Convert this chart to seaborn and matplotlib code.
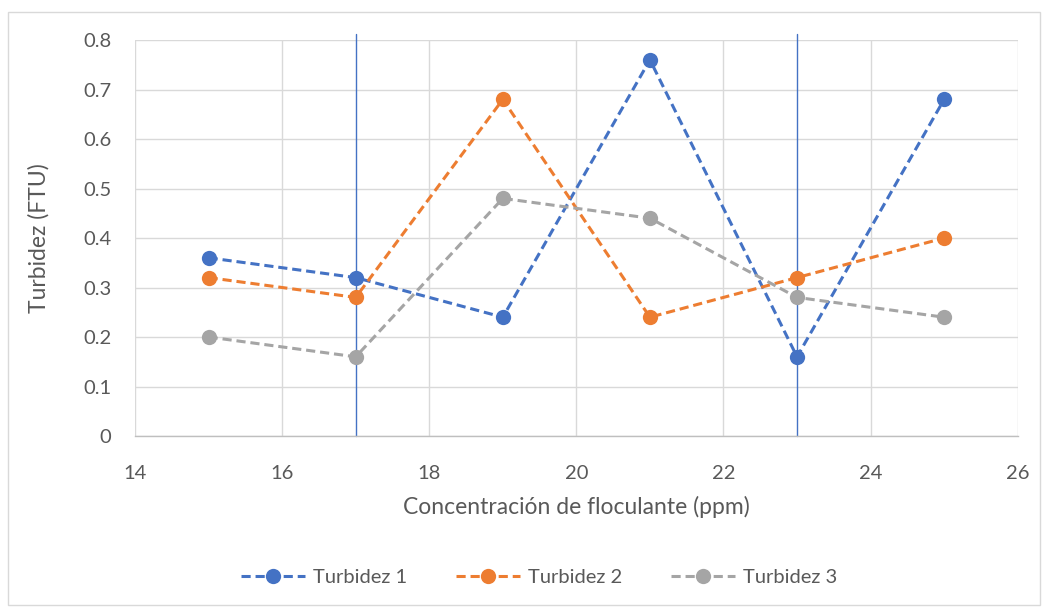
import pandas as pd
import numpy as np
import matplotlib
matplotlib.use("Agg")
import matplotlib.pyplot as plt
import seaborn as sns
from matplotlib.patches import Rectangle

# Datos
concentracion = [15, 17, 19, 21, 23, 25]
turbidez_1 = [0.36, 0.32, 0.24, 0.76, 0.16, 0.68]
turbidez_2 = [0.32, 0.28, 0.68, 0.24, 0.32, 0.40]
turbidez_3 = [0.20, 0.16, 0.48, 0.44, 0.28, 0.24]
series = ["Turbidez 1", "Turbidez 2", "Turbidez 3"]
lineas_verticales = [17, 23]

colores = ["#4472C4", "#ED7D31", "#A5A5A5"]

df = pd.DataFrame({
    "x": concentracion * 3,
    "y": turbidez_1 + turbidez_2 + turbidez_3,
    "serie": np.repeat(series, len(concentracion)),
})

sns.set_style("white")
plt.rcParams['font.family'] = ['Lato', 'DejaVu Sans']

fig = plt.figure(figsize=(10.47, 6.11), dpi=100)
ax = fig.add_axes([0.129, 0.2864, 0.843, 0.6481])

# borde exterior del gráfico
fig.patches.append(Rectangle((8 / 1047, 6 / 611), 1032 / 1047, 593 / 611,
                             transform=fig.transFigure, fill=False,
                             edgecolor="#D9D9D9", linewidth=1))

sns.lineplot(data=df, x="x", y="y", hue="serie", palette=colores,
             marker="o", markersize=11, markeredgewidth=0, linewidth=2.2,
             dashes=False, ax=ax, zorder=3)
for line in ax.get_lines():
    line.set_linestyle((0, (3, 1.6)))

for xv in lineas_verticales:
    ax.plot([xv, xv], [0, 0.812], color="#4472C4", linewidth=1, zorder=2,
            clip_on=False)

ax.set_xlim(14, 26)
ax.set_ylim(0, 0.8)
ax.set_xticks(np.arange(14, 27, 2))
ax.set_yticks(np.arange(0, 0.81, 0.1))
ax.set_yticklabels(["0"] + ["%.1f" % v for v in np.arange(0.1, 0.81, 0.1)])
ax.grid(True, color="#D9D9D9", linewidth=1)
ax.set_axisbelow(True)
for s in ["top", "right", "left"]:
    ax.spines[s].set_visible(False)
ax.spines["bottom"].set_color("#BFBFBF")
ax.spines["bottom"].set_linewidth(1)
ax.tick_params(axis="both", length=0, labelsize=14.5, colors="#595959")
ax.tick_params(axis="x", pad=21)
ax.tick_params(axis="y", pad=17)

ax.set_xlabel("Concentración de floculante (ppm)", fontsize=16.5, color="#595959", labelpad=10)
ax.set_ylabel("Turbidez (FTU)", fontsize=16.5, color="#595959", labelpad=24)

handles, labels = ax.get_legend_handles_labels()
ax.get_legend().remove()
fig.legend(handles, labels, loc="center", bbox_to_anchor=(0.515, 0.055), ncol=3,
           frameon=False, fontsize=14.5, labelcolor="#595959", handlelength=3.2,
           handletextpad=0.4, columnspacing=2.4)

fig.savefig("out.png", dpi=100)
